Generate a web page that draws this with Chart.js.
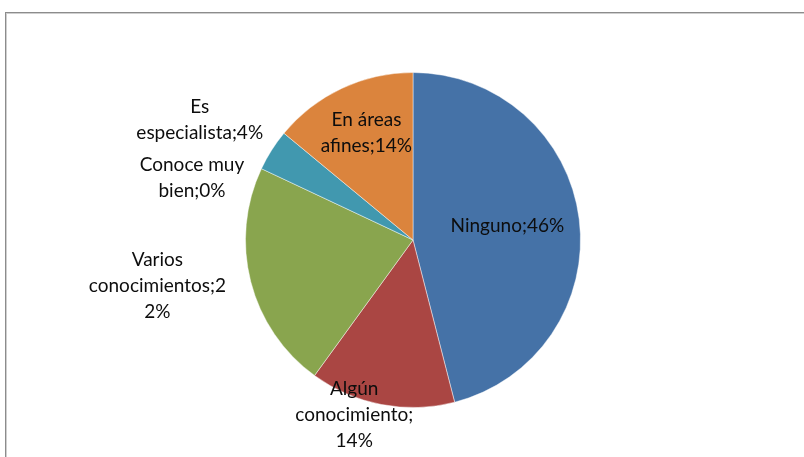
<!DOCTYPE html>
<html>
<head>
<meta charset="utf-8">
<script src="https://cdn.jsdelivr.net/npm/chart.js@4/dist/chart.umd.min.js"></script>
<style>
  html, body { margin: 0; padding: 0; background: #fff; overflow: hidden; }
  #wrap { position: relative; width: 804px; height: 457px; }
  #frame {
    position: absolute; left: 5px; top: 12px; width: 900px; height: 600px;
    border: 1px solid #8c8c8c; box-shadow: inset 1px 1px 0 #cfcfcf;
  }
  canvas { position: absolute; left: 0; top: 0; }
</style>
</head>
<body>
<div id="wrap">
  <div id="frame"></div>
  <canvas id="pieChart" width="804" height="457"></canvas>
</div>
<script>
// categories and shares (%)
const categories = ["Ninguno", "Algún conocimiento", "Varios conocimientos", "Conoce muy bien", "Es especialista", "En áreas afines"];
const shares = [46, 14, 22, 0, 4, 14];
const colors = ["#4572A7", "#AA4643", "#89A54E", "#71588F", "#4198AF", "#DB843D"];

// where each label text is wrapped (character index; a space there is dropped)
const labelBreaks = [[], [5, 19], [6, 22], [10], [2], [8]];
// label placement: distance as a fraction of the radius, angle shift in degrees
const labelPlace = [
  { f: 0.57, da: -1.5 },
  { f: 1.10, da: 7.8 },
  { f: 1.55, da: 4.3 },
  { f: 1.37, da: -9.6 },
  { f: 1.46, da: -3.1 },
  { f: 0.70, da: 1.8 }
];

function wrapText(text, breaks) {
  const lines = [];
  let from = 0;
  breaks.forEach(b => {
    lines.push(text.slice(from, b));
    from = text[b] === " " ? b + 1 : b;
  });
  lines.push(text.slice(from));
  return lines;
}

const sliceLabels = {
  id: "sliceLabels",
  afterDatasetsDraw(chart) {
    const ctx = chart.ctx;
    const meta = chart.getDatasetMeta(0);
    const lineH = 26;
    ctx.save();
    ctx.font = "19px Lato";
    ctx.fillStyle = "#0d0d0d";
    ctx.textAlign = "center";
    ctx.textBaseline = "middle";
    meta.data.forEach((arc, i) => {
      const p = arc.getProps(["x", "y", "startAngle", "endAngle", "outerRadius"], true);
      const a = (p.startAngle + p.endAngle) / 2 + labelPlace[i].da * Math.PI / 180;
      const r = p.outerRadius * labelPlace[i].f;
      const x = p.x + Math.cos(a) * r;
      const y = p.y + Math.sin(a) * r;
      const lines = wrapText(`${categories[i]};${shares[i]}%`, labelBreaks[i]);
      const top = y - (lines.length - 1) * lineH / 2;
      lines.forEach((ln, k) => ctx.fillText(ln, x, top + k * lineH));
    });
    ctx.restore();
  }
};

new Chart(document.getElementById("pieChart"), {
  type: "pie",
  data: {
    labels: categories,
    datasets: [{
      data: shares,
      backgroundColor: colors,
      borderColor: "rgba(255,255,255,0.45)",
      borderWidth: 1
    }]
  },
  options: {
    responsive: false,
    animation: false,
    layout: { padding: { left: 245, right: 223, top: 72, bottom: 49 } },
    plugins: { legend: { display: false }, tooltip: { enabled: false } }
  },
  plugins: [sliceLabels]
});
</script>
</body>
</html>
